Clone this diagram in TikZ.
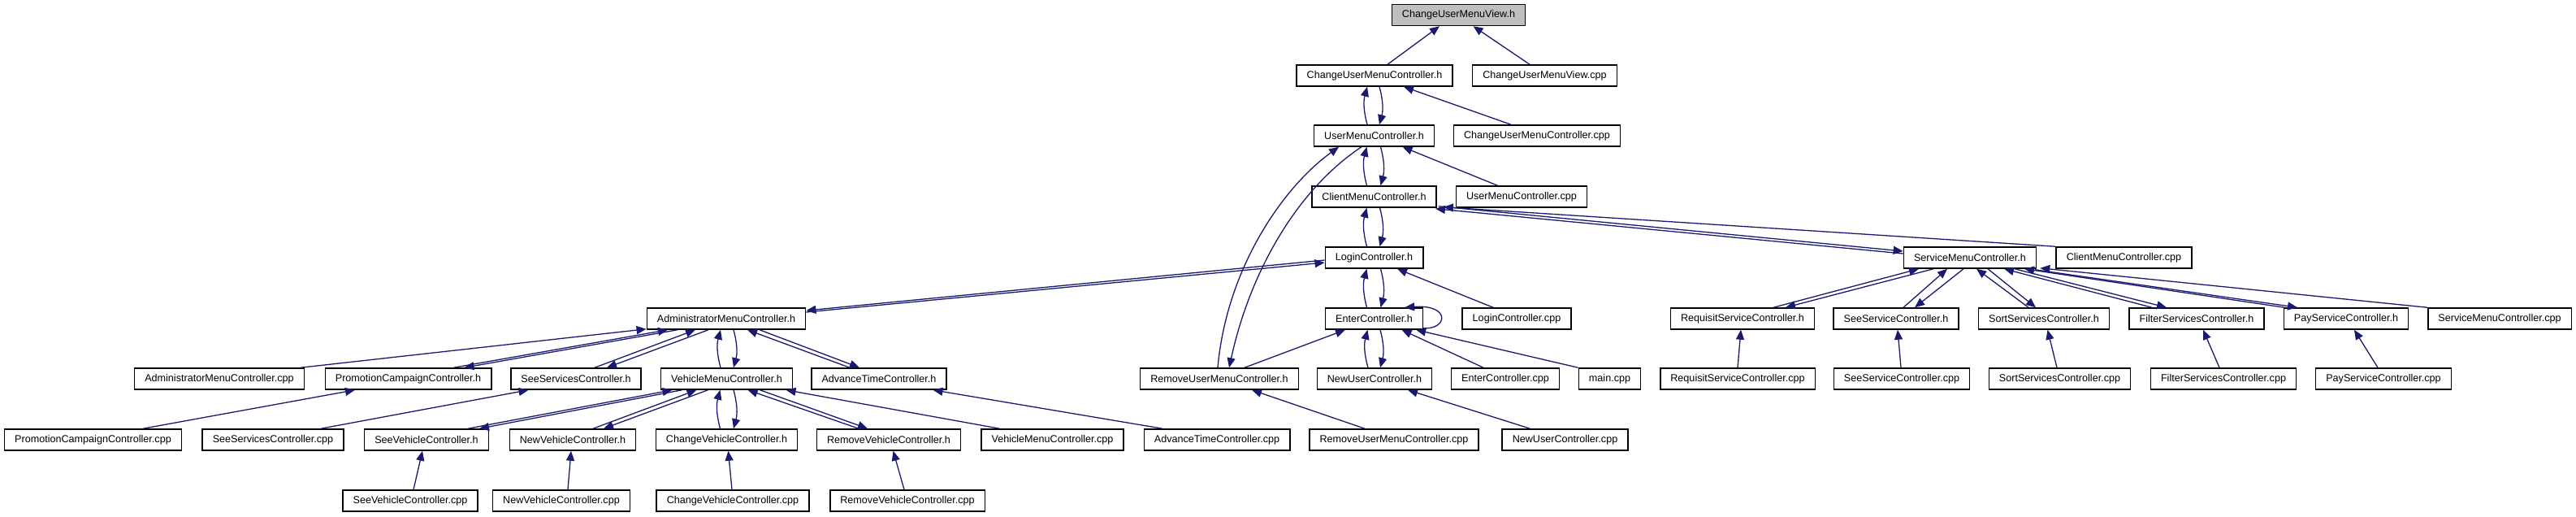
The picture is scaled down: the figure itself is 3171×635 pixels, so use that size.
\documentclass[tikz,border=0pt]{standalone}
\usepackage{fontspec}
\setmainfont{Liberation Sans}
\usetikzlibrary{arrows.meta, positioning}
\definecolor{depblue}{HTML}{191970}
\definecolor{viewgray}{HTML}{BFBFBF}

\begin{document}
\begin{tikzpicture}[x=1pt, y=-1pt,
		file/.style={draw=black, line width=1.5pt, fill=white, minimum height=26pt, inner xsep=12.6pt, inner ysep=0pt, font={\fontsize{12.6pt}{15pt}\selectfont}},
		dep/.style={draw=depblue, line width=1.3pt, -{Triangle[length=12pt, width=10pt]}}]
		
		\useasboundingbox (0,0) rectangle (3171,635);
		
		% --- TOP: THE VIEW AND ITS CONTROLLER ---
		\node[file, fill=viewgray] (ChangeViewH) at (1795.5,18.5) {ChangeUserMenuView.h};
		\node[file] (ChangeCtrlH) at (1692,93) {ChangeUserMenuController.h};
		\node[file] (ChangeViewCpp) at (1901.5,93) {ChangeUserMenuView.cpp};
		\node[file] (UserMenuH) at (1691.5,167) {UserMenuController.h};
		\node[file] (ChangeCtrlCpp) at (1892,167) {ChangeUserMenuController.cpp};
		\node[file] (ClientMenuH) at (1691.5,242) {ClientMenuController.h};
		\node[file] (UserMenuCpp) at (1873,242) {UserMenuController.cpp};
		\node[file] (LoginH) at (1691.5,317) {LoginController.h};
		\node[file] (ServiceMenuH) at (2425,317) {ServiceMenuController.h};
		\node[file] (ClientMenuCpp) at (2614.5,317) {ClientMenuController.cpp};
		
		% --- MIDDLE ROW ---
		\node[file] (AdminMenuH) at (894,392) {AdministratorMenuController.h};
		\node[file] (EnterH) at (1691.5,392) {EnterController.h};
		\node[file] (LoginCpp) at (1867,392) {LoginController.cpp};
		\node[file] (RequisitH) at (2145,392) {RequisitServiceController.h};
		\node[file] (SeeServiceH) at (2334,392) {SeeServiceController.h};
		\node[file] (SortH) at (2516,392) {SortServicesController.h};
		\node[file] (FilterH) at (2704,392) {FilterServicesController.h};
		\node[file] (PayH) at (2888,392) {PayServiceController.h};
		\node[file] (ServiceMenuCpp) at (3077,392) {ServiceMenuController.cpp};
		
		\node[file] (AdminMenuCpp) at (270,466) {AdministratorMenuController.cpp};
		\node[file] (PromoH) at (502.5,466) {PromotionCampaignController.h};
		\node[file] (SeeServicesH) at (709,466) {SeeServicesController.h};
		\node[file] (VehicleMenuH) at (894.5,466) {VehicleMenuController.h};
		\node[file] (AdvanceH) at (1082,466) {AdvanceTimeController.h};
		\node[file] (RemoveUserH) at (1501,466) {RemoveUserMenuController.h};
		\node[file] (NewUserH) at (1692,466) {NewUserController.h};
		\node[file] (EnterCpp) at (1853,466) {EnterController.cpp};
		\node[file] (MainCpp) at (1981.5,466) {main.cpp};
		\node[file] (RequisitCpp) at (2139,466) {RequisitServiceController.cpp};
		\node[file] (SeeServiceCpp) at (2341,466) {SeeServiceController.cpp};
		\node[file] (SortCpp) at (2535.5,466) {SortServicesController.cpp};
		\node[file] (FilterCpp) at (2737,466) {FilterServicesController.cpp};
		\node[file] (PayCpp) at (2934,466) {PayServiceController.cpp};
		
		% --- BOTTOM ROWS ---
		\node[file] (PromoCpp) at (114.5,541) {PromotionCampaignController.cpp};
		\node[file] (SeeServicesCpp) at (336,541) {SeeServicesController.cpp};
		\node[file] (SeeVehicleH) at (525,541) {SeeVehicleController.h};
		\node[file] (NewVehicleH) at (705,541) {NewVehicleController.h};
		\node[file] (ChangeVehicleH) at (894.5,541) {ChangeVehicleController.h};
		\node[file] (RemoveVehicleH) at (1094,541) {RemoveVehicleController.h};
		\node[file] (VehicleMenuCpp) at (1295.5,541) {VehicleMenuController.cpp};
		\node[file] (AdvanceCpp) at (1498,541) {AdvanceTimeController.cpp};
		\node[file] (RemoveUserCpp) at (1716,541) {RemoveUserMenuController.cpp};
		\node[file] (NewUserCpp) at (1926.5,541) {NewUserController.cpp};
		
		\node[file] (SeeVehicleCpp) at (505,616) {SeeVehicleController.cpp};
		\node[file] (NewVehicleCpp) at (691,616) {NewVehicleController.cpp};
		\node[file] (ChangeVehicleCpp) at (902,616) {ChangeVehicleController.cpp};
		\node[file] (RemoveVehicleCpp) at (1117,616) {RemoveVehicleController.cpp};
		
		% --- INCLUDES: USER MENU CHAIN ---
		\draw[dep] ([xshift=16]ChangeCtrlH.north) -- ([xshift=-23.5]ChangeViewH.south);
		\draw[dep] ([xshift=-18.5]ChangeViewCpp.north) -- ([xshift=18]ChangeViewH.south);
		\draw[dep] ([xshift=-8.5]UserMenuH.north) to[bend left=15] ([xshift=-9]ChangeCtrlH.south);
		\draw[dep] ([xshift=6]ChangeCtrlH.south) to[bend left=15] ([xshift=6.5]UserMenuH.north);
		\draw[dep] ([xshift=-32]ChangeCtrlCpp.north) -- ([xshift=36]ChangeCtrlH.south);
		\draw[dep] ([xshift=-9]ClientMenuH.north) to[bend left=15] ([xshift=-9]UserMenuH.south);
		\draw[dep] ([xshift=8]UserMenuH.south) to[bend left=15] ([xshift=8]ClientMenuH.north);
		\draw[dep] ([xshift=-29.5]UserMenuCpp.north) -- ([xshift=35]UserMenuH.south);
		\draw[dep] ([xshift=-2]RemoveUserH.north) .. controls +(11,-123) and +(-68,49) .. ([xshift=-43.5]UserMenuH.south);
		\draw[dep] ([xshift=-15.5]UserMenuH.south) .. controls +(-76,50) and +(27,-123) .. ([xshift=12]RemoveUserH.north);
		\draw[dep] ([xshift=-9]LoginH.north) to[bend left=15] ([xshift=-9]ClientMenuH.south);
		\draw[dep] ([xshift=7]ClientMenuH.south) to[bend left=15] ([xshift=7]LoginH.north);
		\draw[dep] ([xshift=2,yshift=2]ClientMenuH.south east) -- ([yshift=8]ServiceMenuH.west);
		\draw[dep] ([yshift=5]ServiceMenuH.west) -- ([xshift=-2,yshift=-1]ClientMenuH.south east);
		\draw[dep] (ClientMenuCpp.north west) -- ([xshift=8,yshift=1]ClientMenuH.south east);
		
		% --- INCLUDES: LOGIN AND ENTER ---
		\draw[dep] ([xshift=-9]EnterH.north) to[bend left=15] ([xshift=-9]LoginH.south);
		\draw[dep] ([xshift=8]LoginH.south) to[bend left=15] ([xshift=8]EnterH.north);
		\draw[dep] ([xshift=-29]LoginCpp.north) -- ([xshift=28.5]LoginH.south);
		\draw[dep] ([yshift=8]AdminMenuH.east) -- ([yshift=-6]LoginH.west);
		\draw[dep] ([yshift=-3]LoginH.west) -- ([yshift=10]AdminMenuH.east);
		\draw[dep] ([yshift=2]EnterH.south east) .. controls +(30,2) and +(57,-4) .. ([xshift=-23]EnterH.north east);
		\draw[dep] ([xshift=31]RemoveUserH.north) -- ([xshift=-35.5]EnterH.south);
		\draw[dep] ([xshift=-8]NewUserH.north) to[bend left=15] ([xshift=-8]EnterH.south);
		\draw[dep] ([xshift=7.5]EnterH.south) to[bend left=15] ([xshift=7]NewUserH.north);
		\draw[dep] ([xshift=-27]EnterCpp.north) -- ([xshift=34]EnterH.south);
		\draw[dep] (MainCpp.north west) -- ([xshift=-9]EnterH.south east);
		\draw[dep] ([xshift=-36]RemoveUserCpp.north) -- ([xshift=40]RemoveUserH.south);
		\draw[dep] ([xshift=-43]NewUserCpp.north) -- ([xshift=41]NewUserH.south);
		
		% --- INCLUDES: SERVICE MENU ---
		\draw[dep] ([xshift=38]RequisitH.north) -- ([xshift=-63]ServiceMenuH.south);
		\draw[dep] ([xshift=-45]ServiceMenuH.south) -- ([xshift=53]RequisitH.north);
		\draw[dep] ([xshift=9]SeeServiceH.north) -- ([xshift=-28]ServiceMenuH.south);
		\draw[dep] ([xshift=-8]ServiceMenuH.south) -- ([xshift=23]SeeServiceH.north);
		\draw[dep] ([xshift=-19]SortH.north) -- ([xshift=8]ServiceMenuH.south);
		\draw[dep] ([xshift=22]ServiceMenuH.south) -- ([xshift=-10]SortH.north);
		\draw[dep] ([xshift=-55]FilterH.north) -- ([xshift=42]ServiceMenuH.south);
		\draw[dep] ([xshift=55]ServiceMenuH.south) -- ([xshift=-37]FilterH.north);
		\draw[dep] ([xshift=-76]PayH.north) -- ([xshift=67]ServiceMenuH.south);
		\draw[dep] ([xshift=80,yshift=-1]ServiceMenuH.south) -- ([xshift=-60]PayH.north);
		\draw[dep] (ServiceMenuCpp.north west) -- ([xshift=4,yshift=1]ServiceMenuH.south east);
		\draw[dep] (RequisitCpp.north) -- ([xshift=-2]RequisitH.south);
		\draw[dep] ([xshift=-1]SeeServiceCpp.north) -- ([xshift=2]SeeServiceH.south);
		\draw[dep] ([xshift=-3.5]SortCpp.north) -- ([xshift=4.5]SortH.south);
		\draw[dep] ([xshift=-5]FilterCpp.north) -- ([xshift=8]FilterH.south);
		\draw[dep] ([xshift=-7]PayCpp.north) -- ([xshift=10]PayH.south);
		
		% --- INCLUDES: ADMINISTRATOR MENU ---
		\draw[dep] ([xshift=100]AdminMenuCpp.north) -- ([yshift=1]AdminMenuH.south west);
		\draw[dep] ([xshift=56]PromoH.north) -- ([xshift=-72]AdminMenuH.south);
		\draw[dep] ([xshift=-60]AdminMenuH.south) -- ([xshift=69]PromoH.north);
		\draw[dep] ([xshift=23]SeeServicesH.north) -- ([xshift=-38]AdminMenuH.south);
		\draw[dep] ([xshift=-22]AdminMenuH.south) -- ([xshift=38]SeeServicesH.north);
		\draw[dep] ([xshift=-7.5]VehicleMenuH.north) to[bend left=15] ([xshift=-7]AdminMenuH.south);
		\draw[dep] ([xshift=9]AdminMenuH.south) to[bend left=15] ([xshift=8.5]VehicleMenuH.north);
		\draw[dep] ([xshift=-36]AdvanceH.north) -- ([xshift=26]AdminMenuH.south);
		\draw[dep] ([xshift=41]AdminMenuH.south) -- ([xshift=-24]AdvanceH.north);
		\draw[dep] ([xshift=61.5]PromoCpp.north) -- ([xshift=-65.5]PromoH.south);
		\draw[dep] ([xshift=59]SeeServicesCpp.north) -- ([xshift=-58.5]SeeServicesH.south);
		\draw[dep] ([xshift=-67]AdvanceCpp.north) -- ([xshift=66.5]AdvanceH.south);
		
		% --- INCLUDES: VEHICLE MENU ---
		\draw[dep] ([xshift=51]SeeVehicleH.north) -- ([xshift=-67]VehicleMenuH.south);
		\draw[dep] ([xshift=-55]VehicleMenuH.south) -- ([xshift=65]SeeVehicleH.north);
		\draw[dep] ([xshift=25]NewVehicleH.north) -- ([xshift=-37]VehicleMenuH.south);
		\draw[dep] ([xshift=-23]VehicleMenuH.south) -- ([xshift=38]NewVehicleH.north);
		\draw[dep] ([xshift=-8]ChangeVehicleH.north) to[bend left=15] ([xshift=-8]VehicleMenuH.south);
		\draw[dep] ([xshift=8.5]VehicleMenuH.south) to[bend left=15] ([xshift=8.5]ChangeVehicleH.north);
		\draw[dep] ([xshift=-37]RemoveVehicleH.north) -- ([xshift=26]VehicleMenuH.south);
		\draw[dep] ([xshift=41]VehicleMenuH.south) -- ([xshift=-26]RemoveVehicleH.north);
		\draw[dep] ([xshift=-65]VehicleMenuCpp.north) -- ([xshift=73]VehicleMenuH.south);
		\draw[dep] ([xshift=4]SeeVehicleCpp.north) -- ([xshift=-5]SeeVehicleH.south);
		\draw[dep] ([xshift=8]NewVehicleCpp.north) -- ([xshift=-2]NewVehicleH.south);
		\draw[dep] ([xshift=-1]ChangeVehicleCpp.north) -- ([xshift=2]ChangeVehicleH.south);
		\draw[dep] ([xshift=-4]RemoveVehicleCpp.north) -- ([xshift=5.5]RemoveVehicleH.south);
		
	\end{tikzpicture}
\end{document}
